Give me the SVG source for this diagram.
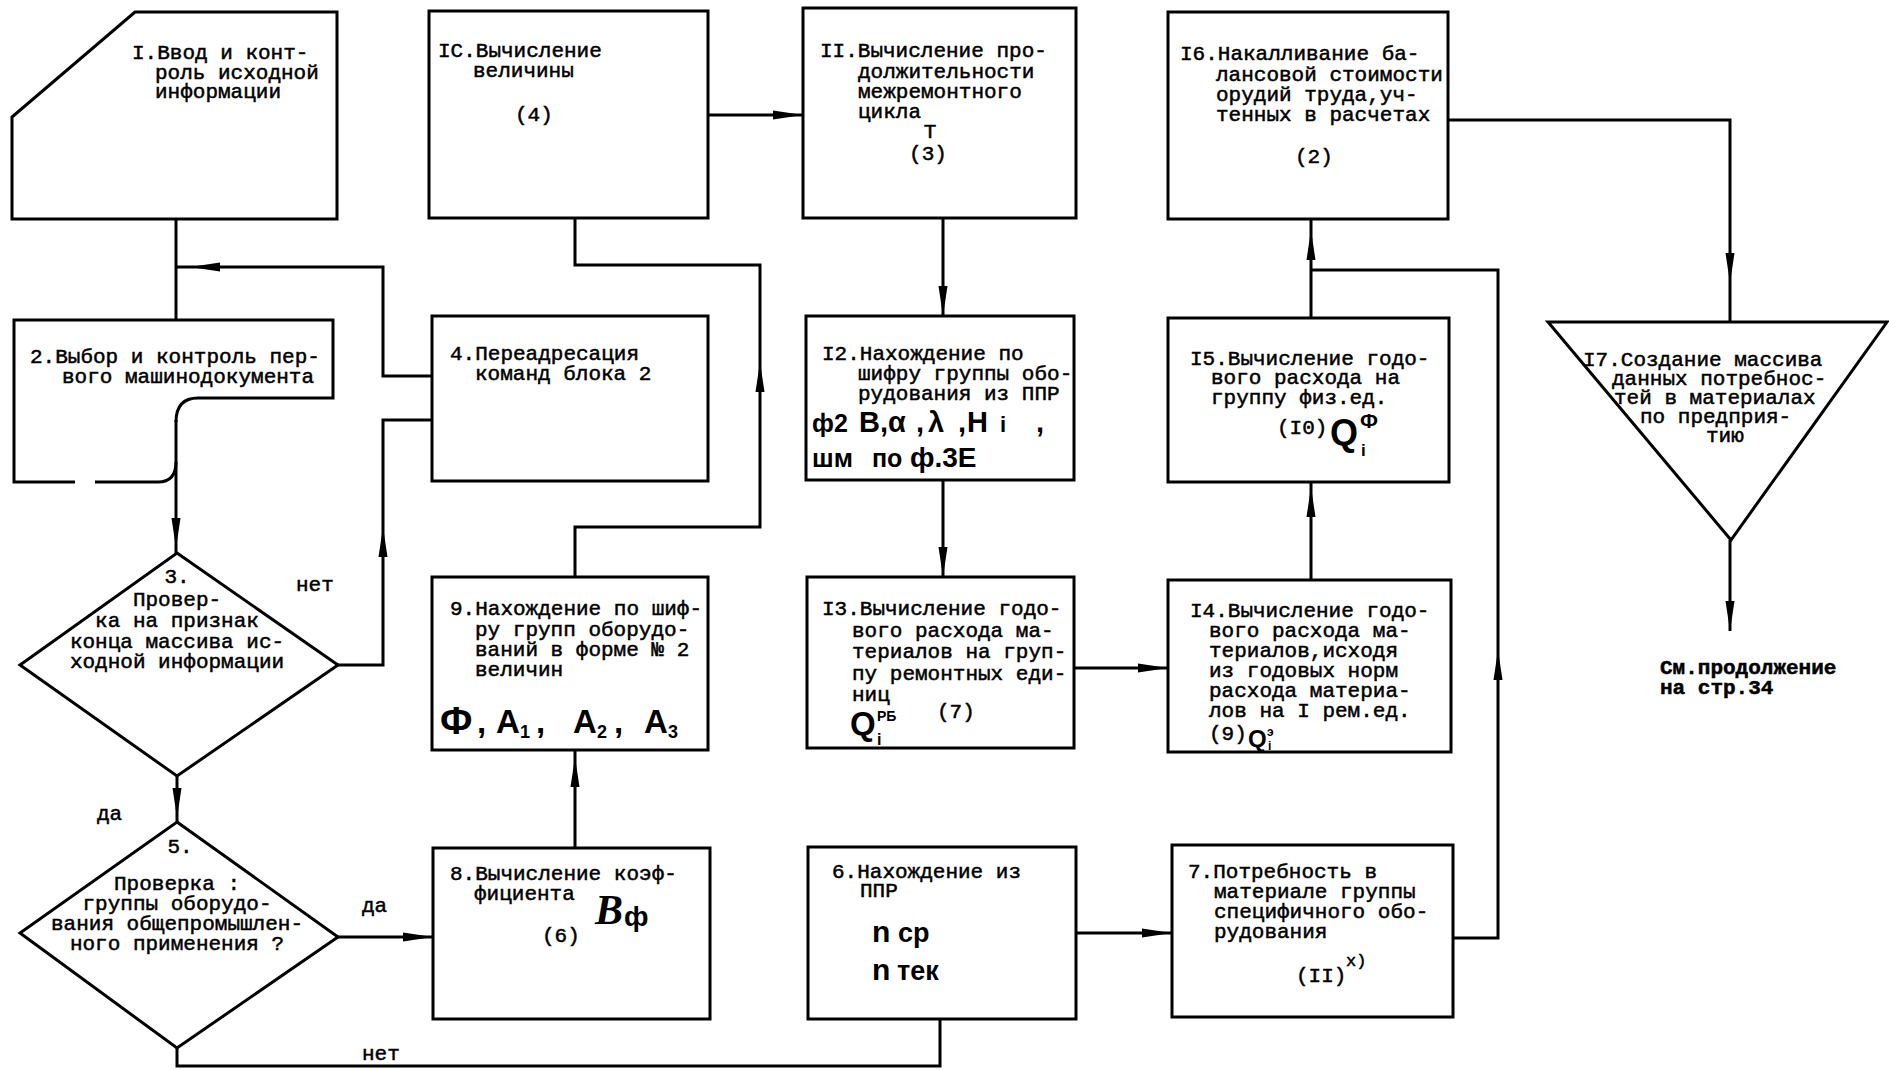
<svg xmlns="http://www.w3.org/2000/svg" width="1889" height="1070" viewBox="0 0 1889 1070">
<style>
.s{fill:none;stroke:#000;stroke-width:3;stroke-linejoin:miter}
.c{fill:none;stroke:#000;stroke-width:3}
.t{font-family:"Liberation Mono","DejaVu Sans Mono",monospace;font-size:21px;fill:#000;stroke:#000;stroke-width:0.5}
.b{font-family:"Liberation Sans","DejaVu Sans",sans-serif;font-weight:bold;fill:#000}
.sc{font-family:"Liberation Serif","DejaVu Serif",serif;font-weight:bold;font-style:italic;fill:#000}
.m{text-anchor:middle}
</style>
<defs>
<marker id="ah" markerUnits="userSpaceOnUse" markerWidth="30" markerHeight="12" viewBox="0 0 30 12" refX="30" refY="6" orient="auto">
<path d="M0,1.5 L30,6 L0,10.5 z" fill="#000"/>
</marker>
</defs>
<rect width="1889" height="1070" fill="#fff"/>

<g id="connectors">
<path class="c" d="M176 219 L176 320"/>
<path class="c" d="M176 420 L176 548" marker-end="url(#ah)"/>
<path class="c" d="M176 548 L176 553"/>
<path class="c" d="M432 376 L383 376 L383 267 L190 267" marker-end="url(#ah)"/>
<path class="c" d="M190 267 L176 267"/>
<path class="c" d="M338 665 L383 665 L383 527" marker-end="url(#ah)"/>
<path class="c" d="M383 527 L383 420 L432 420"/>
<path class="c" d="M177 776 L177 818" marker-end="url(#ah)"/>
<path class="c" d="M177 818 L177 822"/>
<path class="c" d="M338 937 L433 937" marker-end="url(#ah)"/>
<path class="c" d="M177 1048 L177 1066 L940 1066 L940 1019"/>
<path class="c" d="M575 848 L575 757" marker-end="url(#ah)"/>
<path class="c" d="M575 757 L575 750"/>
<path class="c" d="M575 577 L575 527 L760 527 L760 362" marker-end="url(#ah)"/>
<path class="c" d="M760 362 L760 265 L575 265 L575 218"/>
<path class="c" d="M708 115 L803 115" marker-end="url(#ah)"/>
<path class="c" d="M943 218 L943 316" marker-end="url(#ah)"/>
<path class="c" d="M943 480 L943 577" marker-end="url(#ah)"/>
<path class="c" d="M1074 668 L1168 668" marker-end="url(#ah)"/>
<path class="c" d="M1076 933 L1172 933" marker-end="url(#ah)"/>
<path class="c" d="M1311 580 L1311 487" marker-end="url(#ah)"/>
<path class="c" d="M1311 487 L1311 482"/>
<path class="c" d="M1311 318 L1311 230" marker-end="url(#ah)"/>
<path class="c" d="M1311 230 L1311 219"/>
<path class="c" d="M1453 938 L1498 938 L1498 650" marker-end="url(#ah)"/>
<path class="c" d="M1498 650 L1498 270 L1311 270"/>
<path class="c" d="M1448 120 L1730 120 L1730 283" marker-end="url(#ah)"/>
<path class="c" d="M1730 283 L1730 322"/>
<path class="c" d="M1730 540 L1730 631" marker-end="url(#ah)"/>
</g>

<g id="labels">
<text class="t" x="296" y="591">нет</text>
<text class="t" x="97" y="820">да</text>
<text class="t" x="362" y="912">да</text>
<text class="t" x="362" y="1060">нет</text>
<text class="t" x="1660" y="674" font-weight="bold">См.продолжение</text>
<text class="t" x="1660" y="694" font-weight="bold">на стр.34</text>
</g>

<g id="n1">
<polygon class="s" points="135,12 337,12 337,219 12,219 12,117"/>
<text class="t"><tspan x="132" y="59">I.Ввод и конт-</tspan><tspan x="155" y="79">роль исходной</tspan><tspan x="155" y="98">информации</tspan></text>
</g>

<g id="n2">
<path class="s" d="M176 422 Q176 398 198 398 L333 398 L333 320 L14 320 L14 482 L75 482 M95 482 L158 482 Q176 482 176 462"/>
<text class="t"><tspan x="30" y="363">2.Выбор и контроль пер-</tspan><tspan x="62" y="383">вого машинодокумента</tspan></text>
</g>

<g id="n3">
<polygon class="s" points="177,553 338,665 177,776 20,665"/>
<text class="t m"><tspan x="177" y="583">3.</tspan><tspan x="177" y="606">Провер-</tspan><tspan x="177" y="627">ка на признак</tspan><tspan x="177" y="648">конца массива ис-</tspan><tspan x="177" y="668">ходной информации</tspan></text>
</g>

<g id="n4">
<rect class="s" x="432" y="316" width="276" height="165"/>
<text class="t"><tspan x="450" y="360">4.Переадресация</tspan><tspan x="475" y="380">команд блока 2</tspan></text>
</g>

<g id="n5">
<polygon class="s" points="177,822 338,937 177,1048 20,933"/>
<text class="t m"><tspan x="180" y="853">5.</tspan><tspan x="177" y="890">Проверка :</tspan><tspan x="177" y="910">группы оборудо-</tspan><tspan x="177" y="930">вания общепромышлен-</tspan><tspan x="177" y="950">ного применения ?</tspan></text>
</g>

<g id="n6">
<rect class="s" x="808" y="847" width="268" height="172"/>
<text class="t"><tspan x="832" y="878">6.Нахождение  из</tspan><tspan x="860" y="897">ППР</tspan></text>
<text class="b" font-size="30"><tspan x="872" y="942">n</tspan><tspan x="898" y="942" font-size="27">ср</tspan><tspan x="872" y="980">n</tspan><tspan x="897" y="980" font-size="27">тек</tspan></text>
</g>

<g id="n7">
<rect class="s" x="1172" y="845" width="281" height="172"/>
<text class="t"><tspan x="1188" y="878">7.Потребность в</tspan><tspan x="1214" y="898">материале группы</tspan><tspan x="1214" y="918">специфичного обо-</tspan><tspan x="1214" y="938">рудования</tspan><tspan x="1296" y="982">(II)</tspan><tspan x="1346" y="966" font-size="17">x)</tspan></text>
</g>

<g id="n8">
<rect class="s" x="433" y="848" width="277" height="171"/>
<text class="t"><tspan x="450" y="880">8.Вычисление коэф-</tspan><tspan x="474" y="900">фициента</tspan><tspan x="542" y="942">(6)</tspan></text>
<text class="sc" x="595" y="924" font-size="42">B</text>
<text class="b" x="624" y="926" font-size="28">ф</text>
</g>

<g id="n9">
<rect class="s" x="432" y="577" width="276" height="173"/>
<text class="t"><tspan x="450" y="615">9.Нахождение по шиф-</tspan><tspan x="475" y="636">ру групп оборудо-</tspan><tspan x="475" y="656">ваний в форме № 2</tspan><tspan x="475" y="676">величин</tspan></text>
<text class="b" font-size="33"><tspan x="440" y="734" font-size="38">Ф</tspan><tspan x="477" y="733">,</tspan><tspan x="496" y="733">A</tspan><tspan x="520" y="738" font-size="18">1</tspan><tspan x="536" y="733">,</tspan><tspan x="573" y="733">A</tspan><tspan x="597" y="738" font-size="18">2</tspan><tspan x="614" y="733">,</tspan><tspan x="644" y="733">A</tspan><tspan x="668" y="738" font-size="18">3</tspan></text>
</g>

<g id="n10">
<rect class="s" x="429" y="11" width="279" height="207"/>
<text class="t"><tspan x="438" y="57">IC.Вычисление</tspan><tspan x="473" y="77">величины</tspan><tspan x="515" y="121">(4)</tspan></text>
</g>

<g id="n11">
<rect class="s" x="803" y="8" width="273" height="210"/>
<text class="t"><tspan x="820" y="57">II.Вычисление про-</tspan><tspan x="858" y="78">должительности</tspan><tspan x="858" y="98">межремонтного</tspan><tspan x="858" y="118">цикла</tspan></text>
<text class="t m"><tspan x="930" y="138">T</tspan><tspan x="928" y="160">(3)</tspan></text>
</g>

<g id="n12">
<rect class="s" x="806" y="316" width="268" height="164"/>
<text class="t"><tspan x="822" y="360">I2.Нахождение по</tspan><tspan x="858" y="380">шифру группы обо-</tspan><tspan x="858" y="400">рудования из ППР</tspan></text>
<text class="b" y="432" font-size="29"><tspan x="812" font-size="25">ф2</tspan><tspan x="859">B</tspan><tspan x="880">,</tspan><tspan x="888">α</tspan><tspan x="916">,</tspan><tspan x="928">λ</tspan><tspan x="958">,</tspan><tspan x="967">H</tspan><tspan x="1000" font-size="22">i</tspan><tspan x="1036">,</tspan></text>
<text class="b" y="467"><tspan x="812" font-size="26">шм</tspan><tspan x="872" font-size="25">по</tspan><tspan x="910" font-size="28">ф.3Е</tspan></text>
</g>

<g id="n13">
<rect class="s" x="807" y="577" width="267" height="171"/>
<text class="t"><tspan x="822" y="615">I3.Вычисление годо-</tspan><tspan x="852" y="637">вого расхода ма-</tspan><tspan x="852" y="658">териалов на груп-</tspan><tspan x="852" y="680">пу ремонтных еди-</tspan><tspan x="852" y="701">ниц</tspan><tspan x="937" y="718">(7)</tspan></text>
<text class="b"><tspan x="850" y="735" font-size="33">Q</tspan><tspan x="877" y="721" font-size="14">РБ</tspan><tspan x="877" y="745" font-size="16">i</tspan></text>
</g>

<g id="n14">
<rect class="s" x="1168" y="580" width="283" height="172"/>
<text class="t"><tspan x="1190" y="617">I4.Вычисление годо-</tspan><tspan x="1209" y="637">вого расхода ма-</tspan><tspan x="1209" y="657">териалов,исходя</tspan><tspan x="1209" y="677">из годовых норм</tspan><tspan x="1209" y="697">расхода материа-</tspan><tspan x="1209" y="717">лов на I рем.ед.</tspan><tspan x="1209" y="740">(9)</tspan></text>
<text class="b"><tspan x="1248" y="747" font-size="24">Q</tspan><tspan x="1267" y="736" font-size="12">э</tspan><tspan x="1268" y="750" font-size="12">i</tspan></text>
</g>

<g id="n15">
<rect class="s" x="1168" y="318" width="281" height="164"/>
<text class="t"><tspan x="1277" y="434">(I0)</tspan><tspan x="1190" y="365">I5.Вычисление годо-</tspan><tspan x="1211" y="384">вого расхода на</tspan><tspan x="1211" y="404">группу физ.ед.</tspan></text>
<text class="b"><tspan x="1330" y="445" font-size="36">Q</tspan><tspan x="1360" y="428" font-size="21">Ф</tspan><tspan x="1361" y="456" font-size="17">i</tspan></text>
</g>

<g id="n16">
<rect class="s" x="1168" y="12" width="280" height="207"/>
<text class="t"><tspan x="1180" y="60">I6.Накалливание ба-</tspan><tspan x="1216" y="81">лансовой стоимости</tspan><tspan x="1216" y="101">орудий труда,уч-</tspan><tspan x="1216" y="121">тенных в расчетах</tspan><tspan x="1295" y="163">(2)</tspan></text>
</g>

<g id="n17">
<polygon class="s" points="1548,322 1887,322 1731,540"/>
<text class="t"><tspan x="1583" y="366">I7.Создание массива</tspan><tspan x="1612" y="385">данных потребнос-</tspan><tspan x="1614" y="404">тей в материалах</tspan><tspan x="1640" y="423">по предприя-</tspan><tspan x="1706" y="442">тию</tspan></text>
</g>
</svg>
